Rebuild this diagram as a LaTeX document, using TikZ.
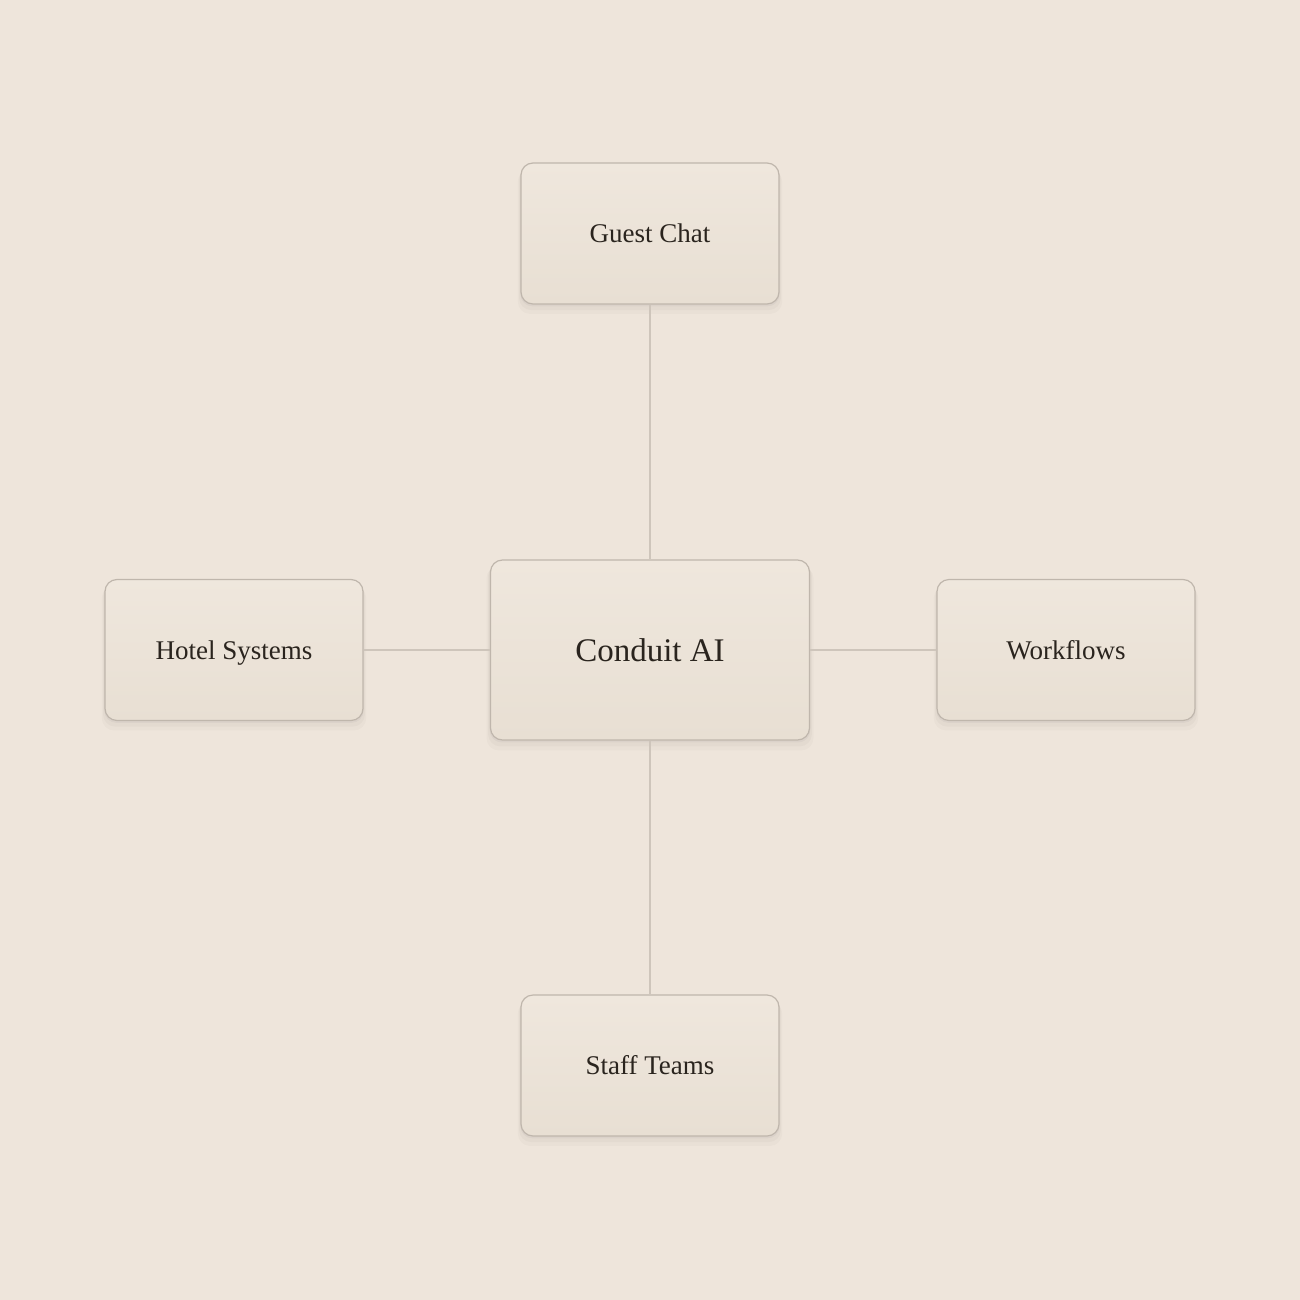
\documentclass[tikz,border=0pt]{standalone}
\usepackage{fontspec}
\setmainfont{Liberation Serif}
\usetikzlibrary{shadows}
\definecolor{bg}{HTML}{EEE5DB}
\definecolor{boxtop}{HTML}{EFE7DD}
\definecolor{boxbot}{HTML}{E8DFD3}
\definecolor{boxline}{HTML}{BFB6AC}
\definecolor{conn}{HTML}{CEC5BB}
\definecolor{ink}{HTML}{2A241E}
\tikzset{
  card/.style={draw=boxline, line width=1.2pt, rounded corners=12pt,
    top color=boxtop, bottom color=boxbot, text=ink,
    general shadow={shadow xshift=0pt, shadow yshift=-2pt, opacity=0.03, fill=black, shadow scale=1.005},
    general shadow={shadow xshift=0pt, shadow yshift=-5pt, opacity=0.025, fill=black, shadow scale=1.015},
    general shadow={shadow xshift=0pt, shadow yshift=-8pt, opacity=0.02, fill=black, shadow scale=1.025},
    minimum width=258pt, minimum height=141pt, inner sep=0pt,
    text height=18pt, text depth=0pt,
    font=\fontsize{27}{30}\selectfont},
  hubcard/.style={card, minimum width=319pt, minimum height=180pt,
    text height=22pt, font=\fontsize{33}{36}\selectfont},
  link/.style={draw=conn, line width=1.3pt}
}
\begin{document}
\begin{tikzpicture}[x=1pt,y=-1pt]
  \fill[bg] (0,0) rectangle (1300,1300);
  \useasboundingbox (0,0) rectangle (1300,1300);
  \node[hubcard] (hub) at (650,650) {Conduit AI};
  \node[card] (guest) at (650,233.5) {Guest Chat};
  \node[card] (hotel) at (234,650) {Hotel Systems};
  \node[card] (work) at (1066,650) {Workflows};
  \node[card] (staff) at (650,1065.5) {Staff Teams};
  \draw[link] (guest.south) -- (hub.north);
  \draw[link] (hub.south) -- (staff.north);
  \draw[link] (hotel.east) -- (hub.west);
  \draw[link] (hub.east) -- (work.west);
\end{tikzpicture}
\end{document}
